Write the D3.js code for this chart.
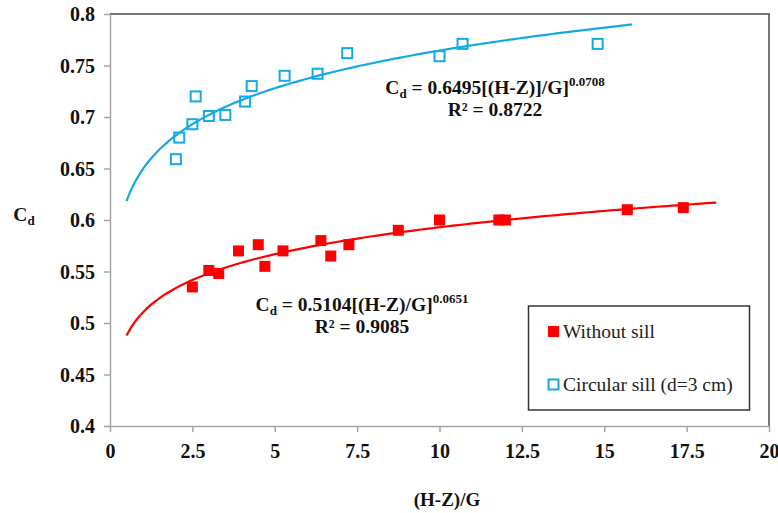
<!DOCTYPE html>
<html>
<head>
<meta charset="utf-8">
<script src="https://cdn.jsdelivr.net/npm/d3@7"></script>
</head>
<body style="margin:0;background:#fff">
<script>
const width = 778;
const height = 513;
const margin = { top: 14, right: 9, bottom: 87, left: 110 };
const serif = '"Liberation Serif", "Times New Roman", Times, "DejaVu Serif", serif';

// data
const withoutSillX = [2.5, 3.0, 3.3, 3.9, 4.5, 4.7, 5.25, 6.4, 6.7, 7.25, 8.75, 10.0, 11.8, 12.0, 15.7, 17.4];
const withoutSillY = [0.535, 0.551, 0.548, 0.570, 0.576, 0.555, 0.570, 0.580, 0.565, 0.576, 0.590, 0.600, 0.600, 0.600, 0.610, 0.612];
const circularX = [2.0, 2.1, 2.5, 2.6, 3.0, 3.5, 4.1, 4.3, 5.3, 6.3, 7.2, 10.0, 10.7, 14.8];
const circularY = [0.659, 0.680, 0.693, 0.720, 0.701, 0.702, 0.715, 0.730, 0.740, 0.742, 0.762, 0.759, 0.771, 0.771];

// trendline coefficients from the equations shown on the chart
const fitWithout = { a: 0.5104, b: 0.0651, x0: 0.5, x1: 18.4 };
const fitCircular = { a: 0.6495, b: 0.0708, x0: 0.5, x1: 15.85 };

const xTicks = [0, 2.5, 5, 7.5, 10, 12.5, 15, 17.5, 20];
const xTickLabels = ['0', '2.5', '5', '7.5', '10', '12.5', '15', '17.5', '20'];
const yTicks = [0.4, 0.45, 0.5, 0.55, 0.6, 0.65, 0.7, 0.75, 0.8];
const yTickLabels = ['0.4', '0.45', '0.5', '0.55', '0.6', '0.65', '0.7', '0.75', '0.8'];

const red = '#ff0000';
const blue = '#14a9e2';

const svg = d3.select('body').append('svg')
    .attr('width', width)
    .attr('height', height)
    .style('font-family', serif);

const xScale = d3.scaleLinear()
    .domain([0, 20])
    .range([margin.left, width - margin.right]);
const yScale = d3.scaleLinear()
    .domain([0.4, 0.8])
    .range([height - margin.bottom, margin.top]);

// top and right frame
svg.append('path')
    .attr('d', 'M' + xScale(0) + ',' + yScale(0.8) + 'H' + xScale(20) + 'V' + yScale(0.4))
    .attr('fill', 'none')
    .attr('stroke', '#4a4a4a')
    .attr('stroke-width', 1.5);

const xAxis = d3.axisBottom(xScale)
    .tickValues(xTicks)
    .tickFormat((d, i) => xTickLabels[i])
    .tickSize(6)
    .tickSizeOuter(0)
    .tickPadding(9);
const yAxis = d3.axisLeft(yScale)
    .tickValues(yTicks)
    .tickFormat((d, i) => yTickLabels[i])
    .tickSize(6)
    .tickSizeOuter(0)
    .tickPadding(9);

const gx = svg.append('g')
    .attr('transform', 'translate(0,' + yScale(0.4) + ')')
    .call(xAxis);
const gy = svg.append('g')
    .attr('transform', 'translate(' + xScale(0) + ',0)')
    .call(yAxis);

[gx, gy].forEach(g => {
    g.attr('font-family', null).attr('font-size', null);
    g.select('.domain').attr('stroke', '#a6a6a6').attr('stroke-width', 1.5);
    g.selectAll('.tick line').attr('stroke', '#a6a6a6').attr('stroke-width', 1.5);
    g.selectAll('.tick text')
        .style('font-family', serif)
        .style('font-weight', 'bold')
        .style('font-size', '20px')
        .attr('fill', '#111');
});
gx.selectAll('.tick text').attr('dy', '0.85em');
gy.selectAll('.tick text').attr('dy', '0.33em');

// trendlines
function fitPoints(f) {
    const pts = [];
    const n = 120;
    for (let i = 0; i <= n; i++) {
        const x = f.x0 + (f.x1 - f.x0) * i / n;
        pts.push([x, f.a * Math.pow(x, f.b)]);
    }
    return pts;
}
const line = d3.line()
    .x(d => xScale(d[0]))
    .y(d => yScale(d[1]));

svg.append('path')
    .attr('d', line(fitPoints(fitCircular)))
    .attr('fill', 'none')
    .attr('stroke', blue)
    .attr('stroke-width', 2.2);
svg.append('path')
    .attr('d', line(fitPoints(fitWithout)))
    .attr('fill', 'none')
    .attr('stroke', red)
    .attr('stroke-width', 2.2);

// markers
const redSize = 11;
svg.selectAll('.red-pt')
    .data(withoutSillX.map((x, i) => [x, withoutSillY[i]]))
    .enter().append('rect')
    .attr('class', 'red-pt')
    .attr('x', d => xScale(d[0]) - redSize / 2)
    .attr('y', d => yScale(d[1]) - redSize / 2)
    .attr('width', redSize)
    .attr('height', redSize)
    .attr('fill', red);

const blueSize = 10;
svg.selectAll('.blue-pt')
    .data(circularX.map((x, i) => [x, circularY[i]]))
    .enter().append('rect')
    .attr('class', 'blue-pt')
    .attr('x', d => xScale(d[0]) - blueSize / 2)
    .attr('y', d => yScale(d[1]) - blueSize / 2)
    .attr('width', blueSize)
    .attr('height', blueSize)
    .attr('fill', 'none')
    .attr('stroke', blue)
    .attr('stroke-width', 2);

// equations
function boldText(x, y, anchor, size) {
    return svg.append('text')
        .attr('x', x)
        .attr('y', y)
        .attr('text-anchor', anchor)
        .style('font-family', serif)
        .style('font-weight', 'bold')
        .style('font-size', size + 'px')
        .attr('fill', '#111');
}
function equation(cx, cy, coef, expo, r2) {
    const t = boldText(cx, cy, 'middle', 19.5);
    t.append('tspan').text('C');
    t.append('tspan').attr('dy', 4).style('font-size', '13px').text('d');
    t.append('tspan').attr('dy', -4).text(' = ' + coef);
    t.append('tspan').attr('dy', -8).style('font-size', '13px').text(expo);
    boldText(cx, cy + 22, 'middle', 19.5).text('R² = ' + r2);
}
equation(495, 94, '0.6495[(H-Z)]/G]', '0.0708', '0.8722');
equation(362, 311, '0.5104[(H-Z)/G]', '0.0651', '0.9085');

// axis titles
const yt = boldText(24, 221, 'middle', 19.5);
yt.append('tspan').text('C');
yt.append('tspan').attr('dy', 4).style('font-size', '13px').text('d');

boldText(447, 506, 'middle', 19).text('(H-Z)/G');

// legend
const legend = svg.append('g');
legend.append('rect')
    .attr('x', 528.5)
    .attr('y', 306)
    .attr('width', 221)
    .attr('height', 104)
    .attr('fill', '#fff')
    .attr('stroke', '#333')
    .attr('stroke-width', 1.5);
legend.append('rect')
    .attr('x', 548)
    .attr('y', 326)
    .attr('width', 11)
    .attr('height', 11)
    .attr('fill', red);
legend.append('rect')
    .attr('x', 548.5)
    .attr('y', 379.5)
    .attr('width', 10)
    .attr('height', 10)
    .attr('fill', 'none')
    .attr('stroke', blue)
    .attr('stroke-width', 2);
legend.append('text')
    .attr('x', 563)
    .attr('y', 338)
    .style('font-family', serif)
    .style('font-size', '19.5px')
    .attr('fill', '#222')
    .text('Without sill');
legend.append('text')
    .attr('x', 563)
    .attr('y', 391)
    .style('font-family', serif)
    .style('font-size', '19.5px')
    .attr('fill', '#222')
    .text('Circular sill (d=3 cm)');
</script>
</body>
</html>
